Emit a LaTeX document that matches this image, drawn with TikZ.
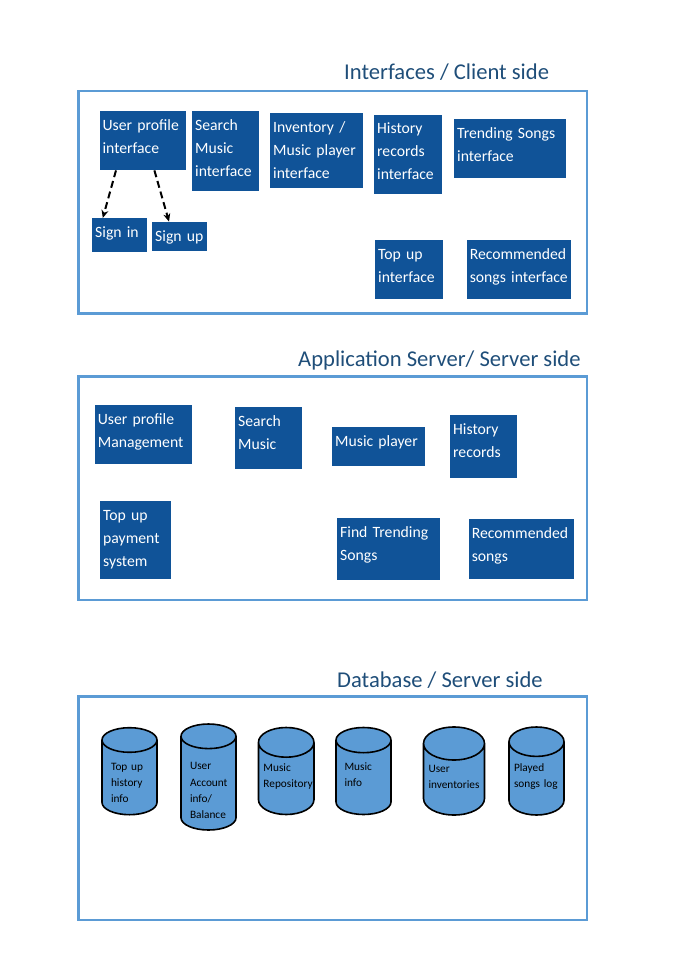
\documentclass[tikz,border=0pt]{standalone}
\usepackage{fontspec}
\setmainfont{Carlito}
\usepackage{tikz}
\usetikzlibrary{arrows.meta,shapes.geometric}
\definecolor{boxblue}{RGB}{16,83,152}
\definecolor{frameblue}{RGB}{91,155,213}
\definecolor{titleblue}{RGB}{31,78,121}
\definecolor{cylblue}{RGB}{91,155,213}
\newcommand{\boxfont}{\fontsize{15.7}{23}\selectfont}
\newcommand{\titlefont}{\fontsize{22.6}{27}\selectfont}
\newcommand{\dbfont}{\fontsize{11.3}{16.3}\selectfont}
\tikzset{
	box/.style 2 args={draw=none, fill=boxblue, text=white, font=\boxfont, align=left, anchor=north west,
		inner xsep=3pt, inner ysep=0pt, text width=#1pt-6pt, text height=19.3pt, text depth=#2pt-19.3pt},
	db/.style 2 args={cylinder, shape border rotate=90, aspect=0.6, draw=black, line width=1.6pt, fill=cylblue,
		font=\dbfont, align=left, anchor=shape center, inner sep=2pt, minimum width=#1pt, minimum height=#2pt,
		text width=#1pt-10pt, text height=9pt, text depth=29pt},
	frame/.style={draw=frameblue, line width=2.6pt},
	title/.style={text=titleblue, font=\titlefont, anchor=base west, inner sep=0pt},
	dasharrow/.style={line width=2pt, dash pattern=on 7pt off 4pt, -{Stealth[length=8pt,width=7pt]}}
}

\begin{document}
\begin{tikzpicture}[x=1pt, y=-1pt]
			%%%%% START %%%%%
			\useasboundingbox (0, 0) rectangle (679, 960);
			
			% client side
			\node[title] (tclient) at (344, 79.5) {Interfaces / Client side};
			\draw[frame] (78.4, 91) rectangle (587, 313.5);
			
			\node[box={86.6}{59}] (upi) at (99.4, 111) {User profile\\interface};
			\node[box={67}{79.5}] (smi) at (192, 111) {Search\\Music\\interface};
			\node[box={92.6}{75}] (ipi) at (270, 113) {Inventory /\\Music player\\interface};
			\node[box={68}{79}] (hri) at (374, 114.5) {History\\records\\interface};
			\node[box={111.6}{58.8}] (tsi) at (454, 118.6) {Trending Songs\\interface};
			\node[box={54.7}{33.7}] (signin) at (92, 218) {Sign in};
			\node[box={55}{29}] (signup) at (152, 221.6) {Sign up};
			\node[box={68}{59.5}] (tui) at (375, 239.5) {Top up\\interface};
			\node[box={104.4}{59.5}] (rsi) at (466.6, 239.5) {Recommended\\songs interface};
			
			\draw[dasharrow] ([xshift=16.6pt]upi.south west) -- ([xshift=10.8pt]signin.north west);
			\draw[dasharrow] ([xshift=55pt]upi.south west) -- ([xshift=17pt]signup.north west);
			
			% application server
			\node[title] (tserver) at (298, 366.4) {Application Server/ Server side};
			\draw[frame] (78.4, 376.5) rectangle (587, 600);
			
			\node[box={97.3}{59}] (upm) at (94.7, 405) {User profile\\Management};
			\node[box={67}{62.5}] (sm) at (235, 406.5) {Search\\Music};
			\node[box={93}{39.5}] (mp) at (332, 426.5) {Music player};
			\node[box={67}{63}] (hr) at (450, 415) {History\\records};
			\node[box={70.7}{78.5}] (tps) at (100, 500.5) {Top up\\payment\\system};
			\node[box={103}{62}] (fts) at (337, 518) {Find Trending\\Songs};
			\node[box={105}{60}] (rs) at (468.6, 519) {Recommended\\songs};
			
			% database
			\node[title] (tdb) at (337, 687) {Database / Server side};
			\draw[frame] (78.4, 696.5) rectangle (587, 920);
			
			\node[db={55}{87}, text width=37pt] (thi) at (129.5, 771.2) {Top up\\history\\info};
			\node[db={55}{106}, text width=37pt, text depth=41pt] (uab) at (208.5, 777) {User\\Account\\info/\\Balance};
			\node[db={55.5}{87}] (mrep) at (286.2, 771) {Music\\Repository};
			\node[db={55}{87}, text width=38pt] (minfo) at (363.5, 771) {Music\\info};
			\node[db={61}{88}] (uinv) at (454, 771) {User\\inventories};
			\node[db={55}{88}] (psl) at (536.5, 771) {Played\\songs log};
			
			%%%%% END %%%%%
\end{tikzpicture}
\end{document}
